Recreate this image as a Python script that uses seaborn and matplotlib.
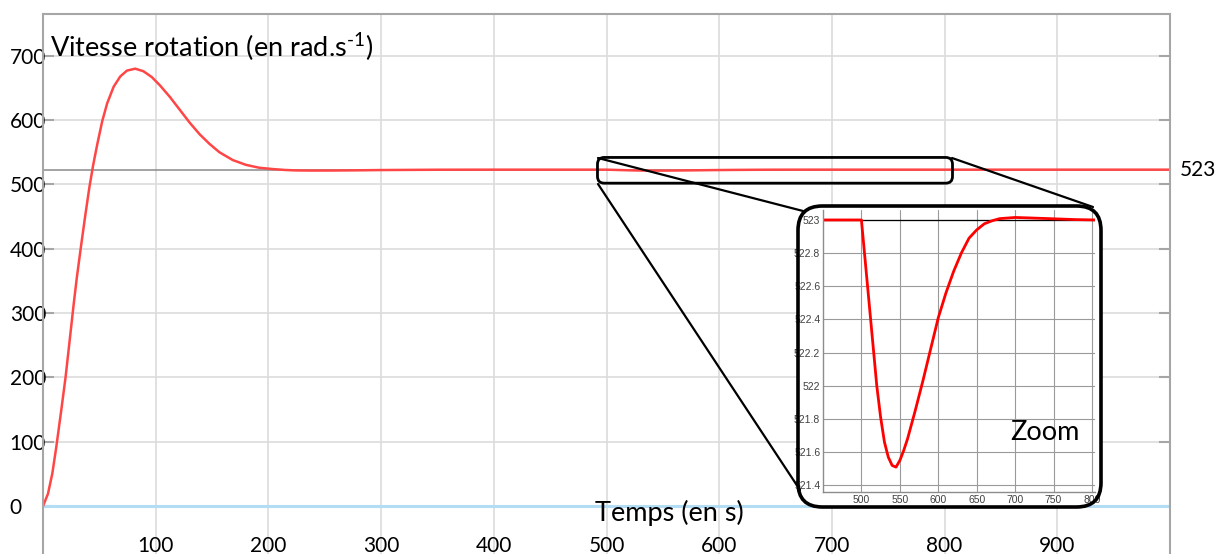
import matplotlib
matplotlib.use("Agg")
import matplotlib.pyplot as plt
import seaborn as sns
from matplotlib.patches import FancyBboxPatch
from matplotlib.lines import Line2D

# main response (rad/s)
t_main = [0, 4.4, 8.3, 11.8, 16.2, 20, 23.5, 27.3, 30, 33.8, 37.6, 41.1, 44.5, 48.1,
          52.5, 56.9, 62.7, 68.6, 74.5, 81.8, 89.1, 96.5, 103.8, 112.6, 121.4, 130.2,
          139, 147.8, 156.6, 168.3, 180, 191.8, 203.5, 215, 225, 240, 260, 280, 300,
          350, 400]
v_main = [0, 19, 51, 92, 149, 200, 255, 315, 355, 405, 453, 495, 530, 562,
          598, 626, 652, 668, 677, 680, 676, 667, 654, 636, 616, 596,
          578, 563, 550, 538, 530.5, 526, 524, 522.5, 521.8, 521.6, 521.7, 522, 522.4,
          522.9, 523]
t_tail = [900, 1000]
v_tail = [523, 523]

# zoomed disturbance
t_zoom = [450, 500, 505, 510, 515, 520, 525, 530, 535, 540, 545, 550, 555, 560, 570,
          580, 590, 600, 610, 620, 630, 640, 650, 660, 670, 680, 700, 720, 750, 780, 805]
v_zoom = [523.0, 523.0, 522.75, 522.50, 522.25, 522.0, 521.81, 521.66, 521.57, 521.52,
          521.51, 521.55, 521.61, 521.68, 521.85, 522.03, 522.22, 522.41, 522.56, 522.69,
          522.80, 522.89, 522.94, 522.977, 522.995, 523.008, 523.015, 523.012, 523.007,
          523.002, 523.0]

y_ticks = [0, 100, 200, 300, 400, 500, 600, 700]
x_ticks = [100, 200, 300, 400, 500, 600, 700, 800, 900]
zoom_yticks = [521.4, 521.6, 521.8, 522, 522.2, 522.4, 522.6, 522.8, 523]
zoom_ylabels = ["521.4", "521.6", "521.8", "522", "522.2", "522.4", "522.6", "522.8", "523"]
zoom_xticks = [500, 550, 600, 650, 700, 750, 800]
setpoint = 523

sns.set_theme(style="white")
plt.rcParams["font.family"] = ["Lato", "DejaVu Sans"]
plt.rcParams["text.color"] = "black"
plt.rcParams["mathtext.fontset"] = "custom"
plt.rcParams["mathtext.rm"] = "Lato"

W, H = 1217, 554
fig = plt.figure(figsize=(W / 100, H / 100), dpi=100)


def fx(x):
    return x / W


def fy(y):
    return 1 - y / H


ax = fig.add_axes([fx(43), 0, 1127 / W, 540 / H])
t_all = t_main + t_zoom[1:] + t_tail
v_all = v_main + v_zoom[1:] + v_tail
sns.lineplot(x=t_all, y=v_all, ax=ax, color="#ff4646", lw=1.8, sort=False, estimator=None)
ax.set_xlim(0, 1000)
ax.set_ylim(-74.5, 765)
ax.set_xticks(x_ticks)
ax.set_yticks(y_ticks)
ax.grid(True, color="#dcdcdc", lw=1.2)
ax.set_axisbelow(True)
ax.axhline(setpoint, color="#8a8a8a", lw=1.1, zorder=1)
ax.axhline(0, color="#b3dcf5", lw=2.2, zorder=1)
for s in ["left", "right", "top"]:
    ax.spines[s].set_color("#a6a6a6")
    ax.spines[s].set_linewidth(1.5)
ax.spines["bottom"].set_visible(False)
ax.tick_params(axis="x", length=0, pad=-13, labelsize=15, colors="black")
ax.tick_params(axis="y", direction="in", length=8, width=1.5, color="#a6a6a6",
               left=True, right=True, pad=24, labelsize=15, labelcolor="black")
for lab in ax.get_yticklabels():
    lab.set_horizontalalignment("left")
ax.set_xlabel("")
ax.set_ylabel("")
ax.text((50 - 43) / 1127, 1 - 43 / 540, "Vitesse rotation (en rad.s$^{\\mathregular{\\text{-}1}}$)",
        transform=ax.transAxes, fontsize=19.5, va="baseline", ha="left")
ax.text((669 - 43) / 1127, (554 - 521) / 540, "Temps (en s)", transform=ax.transAxes,
        fontsize=19.5, va="baseline", ha="center")
ax.text(1.009, (554 - 170) / 540, "523", transform=ax.transAxes, fontsize=15,
        va="center", ha="left")

# zoom rectangle on the main curve
rect = FancyBboxPatch((492, 502), 315, 40, boxstyle="round,pad=0,rounding_size=6",
                      transform=ax.transData, fill=False, ec="black", lw=2, zorder=5)
ax.add_patch(rect)
rect.set_mutation_aspect(1.127 / 0.6437)

# inset frame (white fill below, border on top)
box_xy = (fx(798), fy(507))
box_w, box_h = fx(1101) - fx(798), fy(206) - fy(507)
fill = FancyBboxPatch(box_xy, box_w, box_h, boxstyle="round,pad=0,rounding_size=0.02",
                      transform=fig.transFigure, fc="white", ec="none", zorder=6,
                      mutation_aspect=W / H)
ax.add_patch(fill)
fill.set_clip_on(False)

# connector lines
for p0, p1 in [((598, 158), (803, 211)), ((598, 184), (800, 490)), ((952, 158), (1093, 207))]:
    fig.add_artist(Line2D([fx(p0[0]), fx(p1[0])], [fy(p0[1]), fy(p1[1])],
                          transform=fig.transFigure, color="black", lw=1.6, zorder=3))

axz = fig.add_axes([fx(823), fy(492), fx(1095) - fx(823), fy(210) - fy(492)], zorder=2)
axz.set_facecolor("white")
sns.lineplot(x=t_zoom, y=v_zoom, ax=axz, color="#ff0000", lw=2, sort=False, estimator=None)
axz.set_xlim(450, 804)
axz.set_ylim(521.36, 523.06)
axz.set_xticks(zoom_xticks)
axz.set_yticks(zoom_yticks)
axz.set_yticklabels(zoom_ylabels)
axz.grid(True, color="#9a9a9a", lw=0.8)
axz.set_axisbelow(True)
axz.axhline(setpoint, color="black", lw=0.9, zorder=1)
for s in ["top", "right"]:
    axz.spines[s].set_visible(False)
for s in ["left", "bottom"]:
    axz.spines[s].set_color("#8c8c8c")
    axz.spines[s].set_linewidth(1)
axz.tick_params(length=0, pad=2, labelsize=7.5, labelcolor="#404040")
for lab in axz.get_xticklabels() + axz.get_yticklabels():
    lab.set_fontfamily(["Liberation Sans", "DejaVu Sans"])
axz.set_xlabel("")
axz.set_ylabel("")
axz.text((1045 - 823) / 272, (492 - 433) / 282, "Zoom", transform=axz.transAxes,
         fontsize=19.5, ha="center", va="center")

border = FancyBboxPatch(box_xy, box_w, box_h, boxstyle="round,pad=0,rounding_size=0.02",
                        transform=fig.transFigure, fill=False, ec="black", lw=2.6,
                        zorder=4, mutation_aspect=W / H)
fig.add_artist(border)

fig.savefig("out.png", dpi=100)
